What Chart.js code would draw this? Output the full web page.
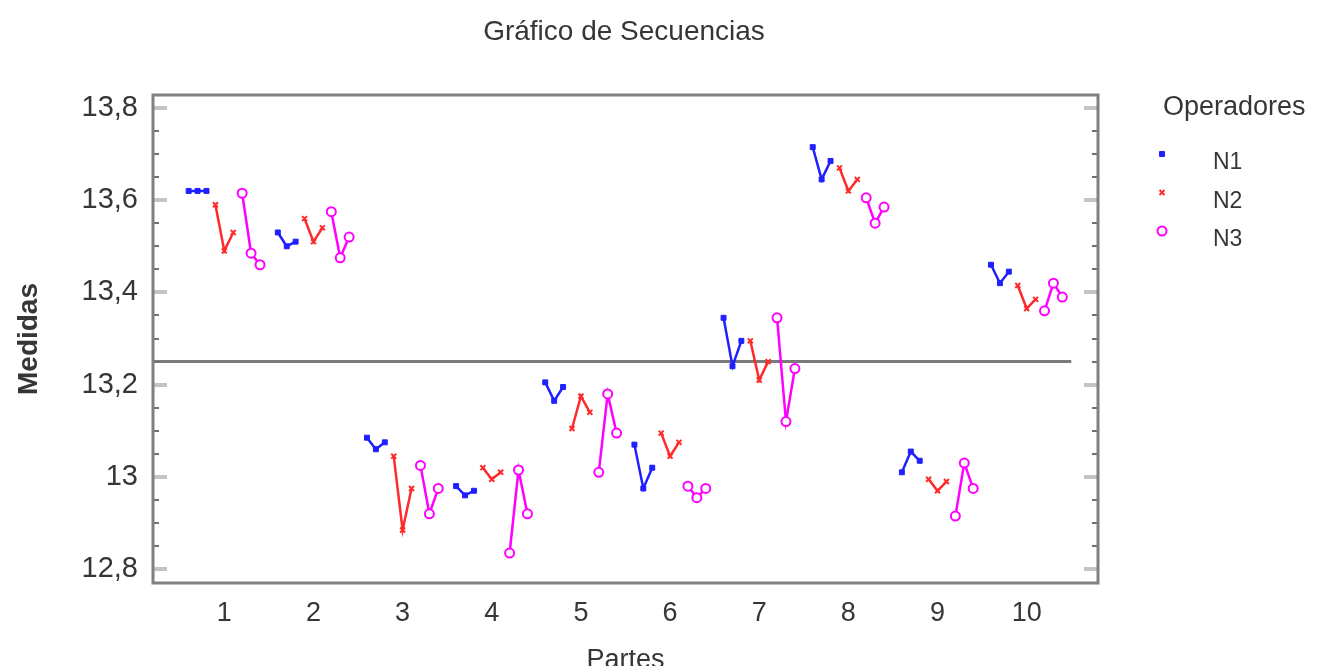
<!DOCTYPE html>
<html>
<head>
<meta charset="utf-8">
<title>Gráfico de Secuencias</title>
<script src="https://cdn.jsdelivr.net/npm/chart.js@4"></script>
<style>
  html, body { margin: 0; padding: 0; background: #fff; }
</style>
</head>
<body>
<canvas id="seqChart" width="1317" height="666"></canvas>
<script>
// partes medidas, 3 repeticiones por operador
const partes = [1, 2, 3, 4, 5, 6, 7, 8, 9, 10];
const operadores = ['N1', 'N2', 'N3'];
const n1 = [
  [13.62, 13.62, 13.62], [13.53, 13.50, 13.51], [13.085, 13.06, 13.075], [12.98, 12.96, 12.97],
  [13.205, 13.165, 13.195], [13.07, 12.975, 13.02], [13.345, 13.24, 13.295], [13.715, 13.645, 13.685],
  [13.01, 13.055, 13.035], [13.46, 13.42, 13.445]
];
const n2 = [
  [13.59, 13.49, 13.53], [13.56, 13.51, 13.54], [13.045, 12.885, 12.975], [13.02, 12.995, 13.01],
  [13.105, 13.175, 13.14], [13.095, 13.045, 13.075], [13.295, 13.21, 13.25], [13.67, 13.62, 13.645],
  [12.995, 12.97, 12.99], [13.415, 13.365, 13.385]
];
const n3 = [
  [13.615, 13.485, 13.46], [13.575, 13.475, 13.52], [13.025, 12.92, 12.975], [12.835, 13.015, 12.92],
  [13.01, 13.18, 13.095], [12.98, 12.955, 12.975], [13.345, 13.12, 13.235], [13.605, 13.55, 13.585],
  [12.915, 13.03, 12.975], [13.36, 13.42, 13.39]
];
const media = 13.25;
const yTicks = [12.8, 13, 13.2, 13.4, 13.6, 13.8];

const textColor = '#363636';
const fontFamily = "'Liberation Sans', Arial, sans-serif";
Chart.defaults.font.family = fontFamily;
Chart.defaults.color = textColor;

// each operator gets its own slot inside the part: -0.4..-0.2, -0.1..0.1, 0.2..0.4
function serie(vals, slot) {
  const pts = [];
  vals.forEach((reps, i) => {
    reps.forEach((v, j) => {
      pts.push({ x: partes[i] + (slot * 3 + j - 4) / 10, y: v });
    });
    pts.push({ x: partes[i] + 0.45, y: null });
  });
  return pts;
}

const marco = {
  id: 'marco',
  afterDatasetsDraw(chart) {
    const { ctx, chartArea: a, scales: { y } } = chart;
    ctx.save();
    // inner ticks on both sides
    for (let v = 12.8; v <= 13.801; v += 0.05) {
      const py = Math.round(y.getPixelForValue(v));
      const major = Math.abs(v * 5 - Math.round(v * 5)) < 1e-6;
      ctx.strokeStyle = major ? '#c4c4c4' : '#707070';
      ctx.lineWidth = major ? 4 : 2;
      const len = major ? 14 : 6;
      ctx.beginPath();
      ctx.moveTo(a.left, py); ctx.lineTo(a.left + len, py);
      ctx.moveTo(a.right, py); ctx.lineTo(a.right - len, py);
      ctx.stroke();
    }
    ctx.strokeStyle = '#808080';
    ctx.lineWidth = 3;
    ctx.strokeRect(a.left, a.top, a.right - a.left, a.bottom - a.top);
    ctx.restore();
  }
};

// title and legend sit outside the plot, placed like the original
const textos = {
  id: 'textos',
  afterDraw(chart) {
    const ctx = chart.ctx;
    ctx.save();
    ctx.textBaseline = 'middle';
    ctx.fillStyle = textColor;
    ctx.font = '28px ' + fontFamily;
    ctx.textAlign = 'center';
    ctx.fillText('Gráfico de Secuencias', 624, 32);
    ctx.textAlign = 'left';
    ctx.font = '27px ' + fontFamily;
    ctx.fillText('Operadores', 1163, 108);
    operadores.forEach((op, i) => {
      const ds = chart.data.datasets[i];
      const y = 163 + i * 38.5;
      ctx.strokeStyle = ds.borderColor;
      ctx.fillStyle = ds.pointBackgroundColor;
      ctx.lineWidth = ds.pointBorderWidth;
      Chart.helpers.drawPoint(ctx, {
        pointStyle: ds.pointStyle, radius: ds.pointRadius, borderWidth: ds.pointBorderWidth, rotation: 0
      }, 1162, y - 9);
      ctx.fillStyle = textColor;
      ctx.font = '23px ' + fontFamily;
      ctx.fillText(op, 1213, y);
    });
    ctx.restore();
  }
};

const ctx = document.getElementById('seqChart').getContext('2d');
new Chart(ctx, {
  type: 'line',
  data: {
    datasets: [
      { label: operadores[0], data: serie(n1, 0), borderColor: '#1f1fff', backgroundColor: '#1f1fff',
        pointBackgroundColor: '#1f1fff', pointStyle: 'rect', pointRadius: 3.5, pointBorderWidth: 1, borderWidth: 2.5 },
      { label: operadores[1], data: serie(n2, 1), borderColor: '#ff2a2a', backgroundColor: '#ff2a2a',
        pointBackgroundColor: '#ff2a2a', pointStyle: 'crossRot', pointRadius: 3.5, pointBorderWidth: 2, borderWidth: 2.5 },
      { label: operadores[2], data: serie(n3, 2), borderColor: '#ff00ff', backgroundColor: '#ffffff',
        pointBackgroundColor: '#ffffff', pointStyle: 'circle', pointRadius: 4.5, pointBorderWidth: 2, borderWidth: 2.5 },
      { label: 'media', data: [{ x: 0.2, y: media }, { x: 10.5, y: media }], borderColor: '#7a7a7a',
        borderWidth: 3, pointRadius: 0 }
    ]
  },
  options: {
    responsive: false,
    animation: false,
    spanGaps: false,
    layout: { padding: { top: 95, right: 219 }, autoPadding: false },
    plugins: {
      legend: { display: false },
      tooltip: { enabled: false },
      title: { display: false }
    },
    scales: {
      x: {
        type: 'linear',
        min: 0.2,
        max: 10.8,
        afterBuildTicks: s => { s.ticks = partes.map(v => ({ value: v })); },
        afterFit: s => { s.height = 83; },
        grid: { display: false, drawTicks: false },
        border: { display: false },
        ticks: { padding: 14, font: { size: 27 }, color: textColor, callback: v => String(v) },
        title: { display: true, text: 'Partes', color: textColor, font: { size: 27, lineHeight: 0.4 }, padding: 0 }
      },
      y: {
        min: 12.77,
        max: 13.828,
        afterBuildTicks: s => { s.ticks = yTicks.map(v => ({ value: v })); },
        afterFit: s => { s.width = 153; },
        grid: { display: false, drawTicks: false },
        border: { display: false },
        ticks: { padding: 15, font: { size: 29 }, color: textColor,
          callback: v => String(Math.round(v * 10) / 10).replace('.', ',') },
        title: { display: true, text: 'Medidas', color: textColor, font: { size: 28, weight: 'bold', lineHeight: 1.2 },
          padding: { top: 12, bottom: 0 } }
      }
    }
  },
  plugins: [marco, textos]
});
</script>
</body>
</html>
